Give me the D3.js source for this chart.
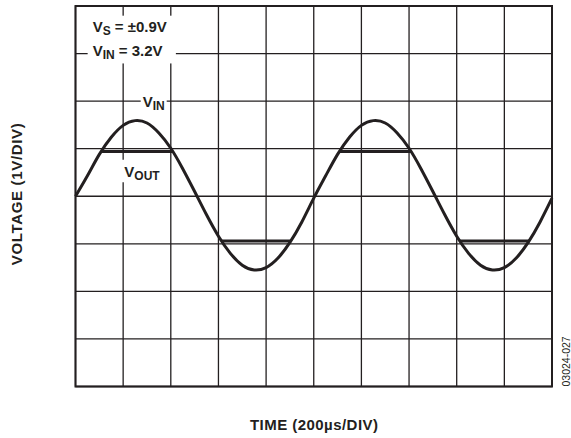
<!DOCTYPE html>
<html>
<head>
<meta charset="utf-8">
<script src="https://cdn.jsdelivr.net/npm/d3@7"></script>
<style>
body { margin: 0; background: #fff; }
text { font-family: "Liberation Sans", Arial, sans-serif; font-weight: bold; fill: #231f20; }
</style>
</head>
<body>
<script>
// time axis in microseconds, 200us per division
var timeUs = [0, 50, 100, 150, 200, 250, 300, 350, 400, 450,
	500, 550, 600, 650, 700, 750, 800, 850, 900, 950,
	1000, 1050, 1100, 1150, 1200, 1250, 1300, 1350, 1400, 1450,
	1500, 1550, 1600, 1650, 1700, 1750, 1800, 1850, 1900, 1950, 2000];

// input waveform (V)
var vin = [0.00, 0.43, 0.88, 1.24, 1.49, 1.59, 1.54, 1.33, 1.01, 0.58,
	0.10, -0.39, -0.84, -1.20, -1.45, -1.55, -1.50, -1.30, -0.97, -0.54,
	-0.04, 0.43, 0.88, 1.24, 1.49, 1.59, 1.54, 1.33, 1.01, 0.58,
	0.10, -0.39, -0.84, -1.20, -1.45, -1.55, -1.50, -1.30, -0.97, -0.54, -0.04];

// output clipping segments (where VOUT leaves VIN)
var clipStart = [108, 614, 1108, 1614];
var clipEnd = [408, 904, 1408, 1904];
var clipLevel = [0.94, -0.94, 0.94, -0.94];

var xTicks = [0, 200, 400, 600, 800, 1000, 1200, 1400, 1600, 1800, 2000];
var yTicks = [-4, -3, -2, -1, 0, 1, 2, 3, 4];

var W = 571, H = 438;
var margin = {top: 6, right: 19, bottom: 51.5, left: 75.5};
var width = W - margin.left - margin.right,
	height = H - margin.top - margin.bottom;

var svg = d3.select("body").append("svg")
	.attr("width", W)
	.attr("height", H);

var g = svg.append("g")
	.attr("transform", "translate(" + margin.left + "," + margin.top + ")");

var x = d3.scaleLinear().domain([0, 2000]).range([0, width]);
var y = d3.scaleLinear().domain([-4, 4]).range([height, 0]);

var ink = "#231f20";

// grid
g.append("g").attr("class", "vgrid")
	.selectAll("line")
	.data(xTicks)
	.enter()
	.append("line")
	.attr("x1", function(d){ return x(d); })
	.attr("x2", function(d){ return x(d); })
	.attr("y1", 0)
	.attr("y2", height)
	.attr("stroke", ink)
	.attr("stroke-width", 1.3);

g.append("g").attr("class", "hgrid")
	.selectAll("line")
	.data(yTicks)
	.enter()
	.append("line")
	.attr("y1", function(d){ return y(d); })
	.attr("y2", function(d){ return y(d); })
	.attr("x1", 0)
	.attr("x2", width)
	.attr("stroke", ink)
	.attr("stroke-width", 1.3);

// labels with white backing that knock out the grid
function label(parent, t, v, main, sub, rest){
	var txt = parent.append("text")
		.attr("x", x(t))
		.attr("y", y(v))
		.style("font-size", "15px");
	txt.append("tspan").text(main);
	txt.append("tspan").attr("dy", 3.5).style("font-size", "12px").text(sub);
	if(rest) txt.append("tspan").attr("dy", -3.5).text(rest);
	return txt;
}

var labels = g.append("g").attr("class", "labels");

var vsText = label(labels, 72, 3.46, "V", "S", " = \u00b10.9V");
var vinAmp = label(labels, 72, 2.95, "V", "IN", " = 3.2V");
var vinLbl = label(labels, 282, 1.88, "V", "IN");
var voutLbl = label(labels, 205, 0.41, "V", "OUT");

function backing(boxes, pad){
	var x0 = d3.min(boxes, function(b){ return b.x; }) - pad[3];
	var y0 = d3.min(boxes, function(b){ return b.y; }) - pad[0];
	var x1 = d3.max(boxes, function(b){ return b.x + b.width; }) + pad[1];
	var y1 = d3.max(boxes, function(b){ return b.y + b.height; }) + pad[2];
	labels.insert("rect", "text")
		.attr("x", x0).attr("y", y0)
		.attr("width", x1 - x0).attr("height", y1 - y0)
		.attr("fill", "#fff");
}

backing([vsText.node().getBBox(), vinAmp.node().getBBox()], [2, 9, 1, 5]);
backing([vinLbl.node().getBBox()], [0, 2, -2, 2]);
backing([voutLbl.node().getBBox()], [3, 3, -1, 3]);

// frame
g.append("rect")
	.attr("x", 0).attr("y", 0)
	.attr("width", width).attr("height", height)
	.attr("fill", "none")
	.attr("stroke", ink)
	.attr("stroke-width", 2);

// traces
var pts = timeUs.map(function(t, i){ return {t: t, v: vin[i]}; });

var line = d3.line()
	.x(function(d){ return x(d.t); })
	.y(function(d){ return y(d.v); })
	.curve(d3.curveNatural);

g.append("path")
	.datum(pts)
	.attr("d", line)
	.attr("fill", "none")
	.attr("stroke", ink)
	.attr("stroke-width", 3);

g.append("g").attr("class", "vout")
	.selectAll("line")
	.data(clipLevel)
	.enter()
	.append("line")
	.attr("x1", function(d, i){ return x(clipStart[i]); })
	.attr("x2", function(d, i){ return x(clipEnd[i]); })
	.attr("y1", function(d){ return y(d); })
	.attr("y2", function(d){ return y(d); })
	.attr("stroke", ink)
	.attr("stroke-width", 3);

// axis titles
svg.append("text")
	.attr("transform", "translate(22," + (margin.top + height / 2 - 2) + ") rotate(-90)")
	.attr("text-anchor", "middle")
	.attr("textLength", 142)
	.style("font-size", "15px")
	.text("VOLTAGE (1V/DIV)");

svg.append("text")
	.attr("x", 314)
	.attr("y", 429.5)
	.attr("text-anchor", "middle")
	.attr("textLength", 128)
	.style("font-size", "15px")
	.text("TIME (200\u00b5s/DIV)");

svg.append("text")
	.attr("transform", "translate(570," + (margin.top + height) + ") rotate(-90)")
	.style("font-size", "10.5px")
	.style("font-weight", "normal")
	.text("03024-027");
</script>
</body>
</html>
